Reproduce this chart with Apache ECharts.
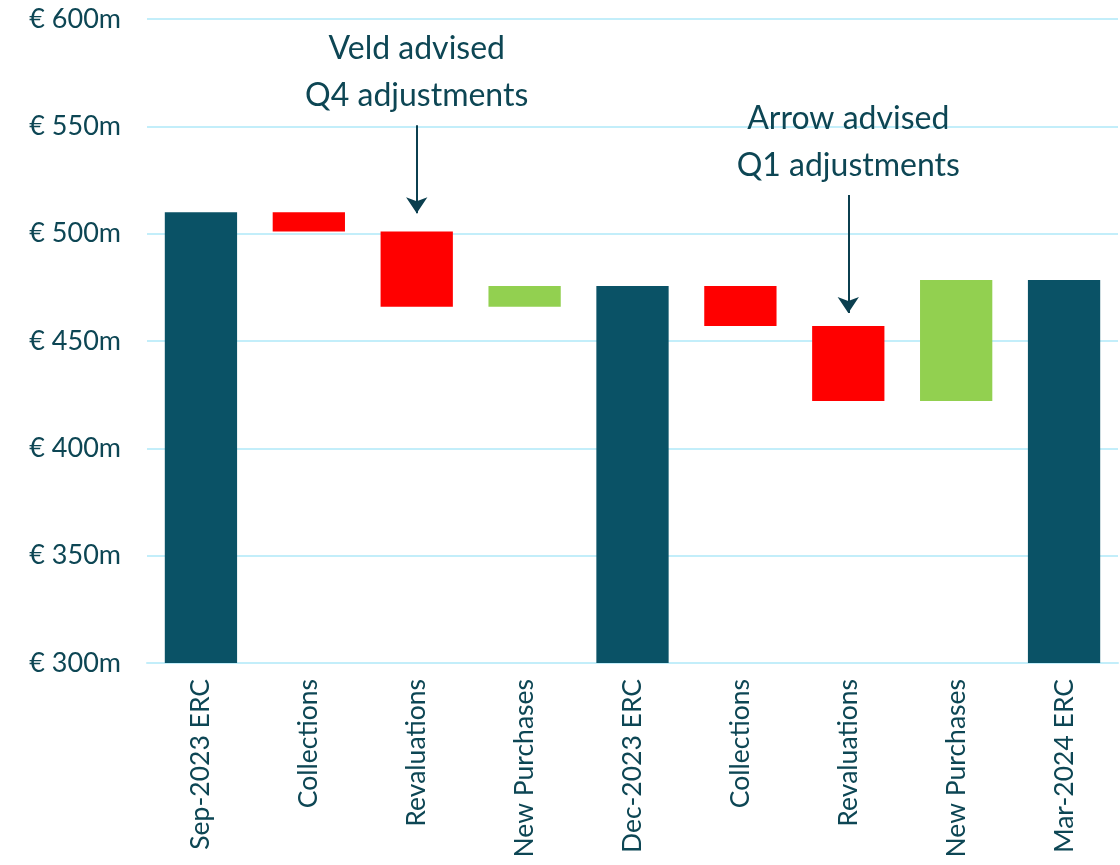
<!DOCTYPE html>
<html><head><meta charset="utf-8">
<script src="https://cdn.jsdelivr.net/npm/echarts@6/dist/echarts.min.js"></script>
<style>html,body{margin:0;padding:0;background:#fff}#c{width:1120px;height:865px}</style>
</head><body><div id="c"></div>
<script>
const categories = ['Sep-2023 ERC','Collections','Revaluations','New Purchases','Dec-2023 ERC','Collections','Revaluations','New Purchases','Mar-2024 ERC'];
// start and end level of each bar (€m)
const fromValues = [0, 510, 501, 466, 0, 475.6, 457, 422, 0];
const toValues   = [510, 501, 466, 475.6, 475.6, 457, 422, 478.4, 478.4];
const barKinds   = ['total','down','down','up','total','down','down','up','total'];
const yTicks = [300, 350, 400, 450, 500, 550, 600];
const annotations = [
  {cat: 2, textValue: 575, arrowFrom: 550.5, arrowTo: 509.5, text: 'Veld advised\nQ4 adjustments'},
  {cat: 6, textValue: 542.5, arrowFrom: 518, arrowTo: 463, text: 'Arrow advised\nQ1 adjustments'}
];

const colors = {total: '#0a5266', down: '#ff0000', up: '#92d050'};
const textColor = '#0d4654';
const font = 'Lato, "Open Sans", sans-serif';

const baseData = fromValues.map((f, i) => Math.min(f, toValues[i]));
const heightData = fromValues.map((f, i) => ({
  value: Math.abs(toValues[i] - f),
  itemStyle: {color: colors[barKinds[i]]}
}));

const chart = echarts.init(document.getElementById('c'));
chart.setOption({
  animation: false,
  grid: {left: 147, right: 2, top: 19, bottom: 202},
  xAxis: {
    type: 'category', data: categories,
    axisLine: {show: true, lineStyle: {color: '#c3eefa', width: 2}},
    axisTick: {show: false},
    axisLabel: {rotate: 90, margin: 16, color: textColor, fontSize: 26.5, fontFamily: font, interval: 0}
  },
  yAxis: {
    type: 'value', min: yTicks[0], max: yTicks[yTicks.length - 1], interval: 50,
    axisLine: {show: false}, axisTick: {show: false},
    splitLine: {lineStyle: {color: '#c3eefa', width: 2}},
    axisLabel: {margin: 26, color: textColor, fontSize: 27, fontFamily: font, formatter: v => '€ ' + v + 'm'}
  },
  series: [
    {type: 'bar', stack: 'w', data: baseData, barWidth: '67%', itemStyle: {color: 'transparent'}, silent: true},
    {type: 'bar', stack: 'w', data: heightData, barWidth: '67%',
     markLine: {
       silent: true, symbol: ['none', 'arrow'], symbolSize: [16, 16],
       lineStyle: {color: '#0b3f4f', width: 2, type: 'solid'},
       label: {show: false},
       data: annotations.map(a => [{coord: [a.cat, a.arrowFrom]}, {coord: [a.cat, a.arrowTo]}])
     },
     markPoint: {
       silent: true, symbol: 'rect', symbolSize: 1, itemStyle: {color: 'rgba(0,0,0,0)'},
       label: {show: true, position: 'inside', color: textColor, fontSize: 32, fontFamily: font, lineHeight: 47, align: 'center', verticalAlign: 'middle', formatter: p => p.data.text},
       data: annotations.map(a => ({coord: [a.cat, a.textValue], text: a.text}))
     }
    }
  ]
});
</script></body></html>
